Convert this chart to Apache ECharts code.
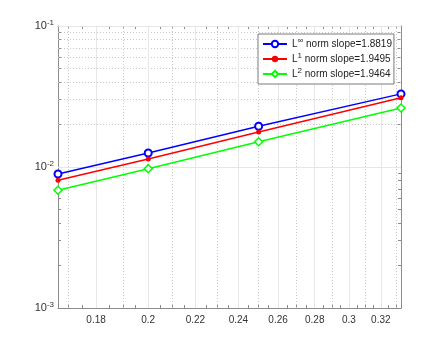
<!DOCTYPE html>
<html>
<head>
<meta charset="utf-8">
<script src="https://cdn.jsdelivr.net/npm/echarts@6/dist/echarts.min.js"></script>
<style>
  html, body { margin: 0; padding: 0; background: #fff; }
  #chart { width: 443px; height: 346px; }
</style>
</head>
<body>
<div id="chart"></div>
<script>
// mesh size h and error norms
const hValues = [1 / 6, 0.2, 0.25, 1 / 3];
const errLinf = [0.00892, 0.01258, 0.01945, 0.0330];
const errL1 = [0.00805, 0.01140, 0.0177, 0.0310];
const errL2 = [0.00684, 0.00973, 0.0151, 0.0262];

const normSup = ['∞', '1', '2'];
const slopes = ['1.8819', '1.9495', '1.9464'];

const xTickLabels = [0.18, 0.2, 0.22, 0.24, 0.26, 0.28, 0.3, 0.32];
const xMinorTicks = [0.17, 0.175, 0.18, 0.185, 0.19, 0.195, 0.2, 0.205, 0.21, 0.215, 0.22, 0.225, 0.23, 0.235,
  0.24, 0.245, 0.25, 0.255, 0.26, 0.265, 0.27, 0.275, 0.28, 0.285, 0.29, 0.295, 0.3, 0.305, 0.31, 0.315, 0.32, 0.325, 0.33];
const yTickLabels = [0.001, 0.01, 0.1];
const yMinorTicks = [0.002, 0.003, 0.004, 0.005, 0.006, 0.007, 0.008, 0.009,
  0.02, 0.03, 0.04, 0.05, 0.06, 0.07, 0.08, 0.09];

const chart = echarts.init(document.getElementById('chart'));

const axisGray = '#8c8c8c';
const labelColor = '#333';

const names = normSup.map((s, i) => 'L' + s + ' norm slope=' + slopes[i]);

function pairs(ys) {
  return hValues.map((x, i) => [x, ys[i]]);
}

const gridSeries = {
  type: 'line',
  data: [],
  silent: true,
  z: 1,
  markLine: {
    silent: true,
    symbol: 'none',
    label: { show: false },
    animation: false,
    data: [
      ...xMinorTicks.map(v => ({ xAxis: v, lineStyle: { color: '#c8c8c8', type: [1, 2], width: 1 } })),
      ...yMinorTicks.map(v => ({ yAxis: v, lineStyle: { color: '#c8c8c8', type: [1, 2], width: 1 } })),
      ...xTickLabels.map(v => ({ xAxis: v, lineStyle: { color: '#e6e6e6', type: 'solid', width: 1 } })),
      ...yTickLabels.map(v => ({ yAxis: v, lineStyle: { color: '#e6e6e6', type: 'solid', width: 1 } }))
    ]
  }
};

const baseX = {
  type: 'log',
  logBase: 10,
  min: 1 / 6,
  max: 1 / 3,
  axisLine: { show: true, onZero: false, lineStyle: { color: axisGray, width: 1 } },
  axisTick: { show: true, inside: true, length: 3, customValues: xMinorTicks, lineStyle: { color: axisGray } },
  splitLine: { show: false },
  minorTick: { show: false }
};
const baseY = {
  type: 'log',
  logBase: 10,
  min: 0.001,
  max: 0.1,
  axisLine: { show: true, onZero: false, lineStyle: { color: axisGray, width: 1 } },
  axisTick: { show: true, inside: true, length: 3, customValues: yTickLabels.concat(yMinorTicks), lineStyle: { color: axisGray } },
  splitLine: { show: false },
  minorTick: { show: false }
};

const option = {
  animation: false,
  backgroundColor: '#fff',
  grid: { left: 58, right: 42, top: 26, bottom: 38, containLabel: false },
  legend: {
    orient: 'vertical',
    left: 258,
    top: 34,
    z: 20,
    padding: [3, 2, 3, 4],
    itemGap: 1,
    itemWidth: 24,
    itemHeight: 8,
    backgroundColor: '#fff',
    borderColor: '#7a7a7a',
    borderWidth: 1,
    borderRadius: 0,
    data: names,
    formatter: function (name) {
      const i = names.indexOf(name);
      return 'L{sup|' + normSup[i] + '} norm slope=' + slopes[i];
    },
    textStyle: {
      fontFamily: 'Liberation Sans, Arial, sans-serif',
      fontSize: 10,
      color: '#222',
      lineHeight: 14,
      rich: {
        sup: { fontSize: 8, verticalAlign: 'top', lineHeight: 14, padding: [0, 0, 6, 0], color: '#222' }
      }
    }
  },
  xAxis: [
    Object.assign({}, baseX, {
      position: 'bottom',
      axisLabel: {
        show: true,
        customValues: xTickLabels,
        margin: 7,
        fontFamily: 'Liberation Sans, Arial, sans-serif',
        fontSize: 10,
        color: labelColor,
        formatter: v => String(+v.toFixed(2))
      }
    }),
    Object.assign({}, baseX, { position: 'top', axisLabel: { show: false } })
  ],
  yAxis: [
    Object.assign({}, baseY, {
      position: 'left',
      axisLabel: {
        show: true,
        customValues: yTickLabels,
        margin: 4,
        fontFamily: 'Liberation Sans, Arial, sans-serif',
        fontSize: 11,
        color: labelColor,
        formatter: function (v) {
          return '10{sup|' + Math.round(Math.log10(v)) + '}';
        },
        rich: {
          sup: { fontSize: 8, padding: [0, 0, 7, 0], color: labelColor }
        }
      }
    }),
    Object.assign({}, baseY, { position: 'right', axisLabel: { show: false } })
  ],
  series: [
    gridSeries,
    {
      name: names[0],
      type: 'line',
      data: pairs(errLinf),
      symbol: 'emptyCircle',
      symbolSize: 7,
      lineStyle: { color: '#0000ff', width: 1.5 },
      itemStyle: { color: '#0000ff', borderWidth: 1.5 },
      z: 5
    },
    {
      name: names[1],
      type: 'line',
      data: pairs(errL1),
      symbol: 'circle',
      symbolSize: 5,
      lineStyle: { color: '#ff0000', width: 1.5 },
      itemStyle: { color: '#ff0000' },
      z: 5
    },
    {
      name: names[2],
      type: 'line',
      data: pairs(errL2),
      symbol: 'diamond',
      symbolSize: 8,
      lineStyle: { color: '#00ff00', width: 1.5 },
      itemStyle: { color: '#ffffff', borderColor: '#00ff00', borderWidth: 1.5 },
      z: 5
    }
  ]
};

chart.setOption(option);
</script>
</body>
</html>
